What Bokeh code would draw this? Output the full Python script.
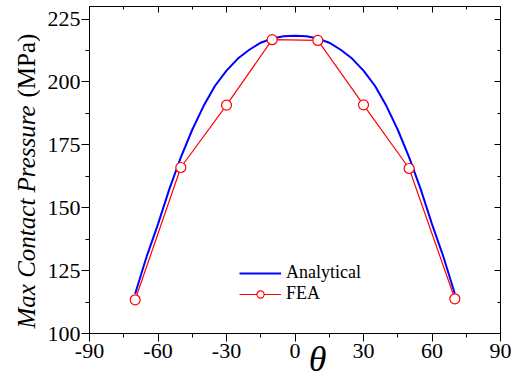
from bokeh.plotting import figure
from bokeh.layouts import row
from bokeh.models import Range1d, FixedTicker, LinearAxis, Label, Legend, LegendItem
from bokeh.embed import file_html
from bokeh.resources import INLINE

# ---- data ----
theta_analytical = [-70, -65, -60, -55, -50, -45, -40, -35, -30, -25, -20, -15, -10, -5, 0,
                    5, 10, 15, 20, 25, 30, 35, 40, 45, 50, 55, 60, 65, 70]
p_analytical = [115.8, 130.5, 143.5, 157.5, 170.0, 181.0, 190.5, 198.5, 204.5, 209.3, 212.8, 215.6, 217.3, 218.2, 218.4,
                218.2, 217.3, 215.6, 212.8, 209.3, 204.5, 198.5, 190.5, 181.0, 170.0, 157.5, 143.5, 130.5, 115.8]
theta_fea = [-70, -50, -30, -10, 10, 30, 50, 70]
p_fea = [113.4, 166.0, 190.8, 216.8, 216.5, 190.9, 165.6, 113.8]

x_ticks = [-90, -60, -30, 0, 30, 60, 90]
x_tick_labels = ["-90", "-60", "-30", "0", "30", "60", "90"]
x_minor = [-75, -45, -15, 15, 45, 75]
y_ticks = [100, 125, 150, 175, 200, 225]
y_tick_labels = ["100", "125", "150", "175", "200", "225"]
y_minor = [112.5, 137.5, 162.5, 187.5, 212.5]

FONT = "Liberation Serif"
LEFT_W = 40
TOP, BOTTOM, H = 6, 50, 383

# ---- narrow panel holding the rotated y title (frame = 6..333 px) ----
yl = figure(width=LEFT_W, height=H, output_backend="svg", toolbar_location=None,
            x_range=Range1d(0, LEFT_W), y_range=Range1d(0, H - TOP - BOTTOM),
            x_axis_type=None, y_axis_type=None,
            min_border_left=0, min_border_right=0, min_border_top=TOP, min_border_bottom=BOTTOM)
yl.outline_line_color = None
yl.grid.visible = False
yl.add_layout(Label(x=26, y=5, text="Max Contact Pressure", angle=1.5707963,
                    text_font=FONT, text_font_style="italic", text_font_size="25px",
                    text_align="left", text_baseline="alphabetic", text_color="black"))
yl.add_layout(Label(x=26, y=236, text="(MPa)", angle=1.5707963,
                    text_font=FONT, text_font_size="25px",
                    text_align="left", text_baseline="alphabetic", text_color="black"))

# ---- main plot ----
p = figure(width=514 - LEFT_W, height=H, output_backend="svg", toolbar_location=None,
           x_range=Range1d(-90, 90), y_range=Range1d(100, 230),
           min_border_left=89 - LEFT_W, min_border_right=14, min_border_top=TOP, min_border_bottom=BOTTOM)
p.background_fill_color = "white"
p.border_fill_color = "white"
p.grid.visible = False
p.outline_line_color = "black"
p.outline_line_width = 1

xt = FixedTicker(ticks=x_ticks, minor_ticks=x_minor)
yt = FixedTicker(ticks=y_ticks, minor_ticks=y_minor)
for ax in p.xaxis:
    ax.ticker = xt
    ax.major_label_overrides = dict(zip(x_ticks, x_tick_labels))
for ax in p.yaxis:
    ax.ticker = yt
    ax.major_label_overrides = dict(zip(y_ticks, y_tick_labels))

for ax in list(p.xaxis) + list(p.yaxis):
    ax.axis_line_color = "black"
    ax.major_tick_line_color = "black"
    ax.minor_tick_line_color = "black"
    ax.major_tick_out = 8
    ax.major_tick_in = 0
    ax.minor_tick_out = 4
    ax.minor_tick_in = 0
    ax.major_label_text_font = FONT
    ax.major_label_text_font_size = "22px"
    ax.major_label_text_color = "black"
p.xaxis.major_label_standoff = 2
p.yaxis.major_label_standoff = 1

p.xaxis.axis_label = "\u00a0\u00a0\u00a0\u00a0\u00a0θ"
p.xaxis.axis_label_text_font = FONT
p.xaxis.axis_label_text_font_style = "italic"
p.xaxis.axis_label_text_font_size = "36px"
p.xaxis.axis_label_text_color = "black"
p.xaxis.axis_label_standoff = -22

# mirrored ticks on top and right
top = LinearAxis(ticker=xt, major_label_text_font_size="0px", major_label_standoff=0,
                 major_tick_in=6, major_tick_out=0, minor_tick_in=3, minor_tick_out=0,
                 axis_line_color="black", major_tick_line_color="black", minor_tick_line_color="black")
right = LinearAxis(ticker=yt, major_label_text_font_size="0px", major_label_standoff=0,
                   major_tick_in=6, major_tick_out=0, minor_tick_in=3, minor_tick_out=0,
                   axis_line_color="black", major_tick_line_color="black", minor_tick_line_color="black")
p.add_layout(top, "above")
p.add_layout(right, "right")

r_an = p.line(theta_analytical, p_analytical, line_color="#0000ff", line_width=2)
r_fl = p.line(theta_fea, p_fea, line_color="#ff0000", line_width=1.2)
r_fs = p.scatter(theta_fea, p_fea, marker="circle", size=10, line_color="#ff0000",
                 fill_color="white", line_width=1.2)

legend = Legend(items=[LegendItem(label="Analytical", renderers=[r_an]),
                       LegendItem(label="FEA", renderers=[r_fl, r_fs])],
                location=(150, 29), padding=0, margin=0, spacing=0,
                glyph_width=42, glyph_height=18, label_height=18, label_standoff=5,
                label_text_font=FONT, label_text_font_size="18px", label_text_color="black",
                border_line_color=None, background_fill_alpha=0)
p.add_layout(legend, "center")

layout = row(yl, p, spacing=0)
open("out.html", "w").write(file_html(layout, INLINE))
